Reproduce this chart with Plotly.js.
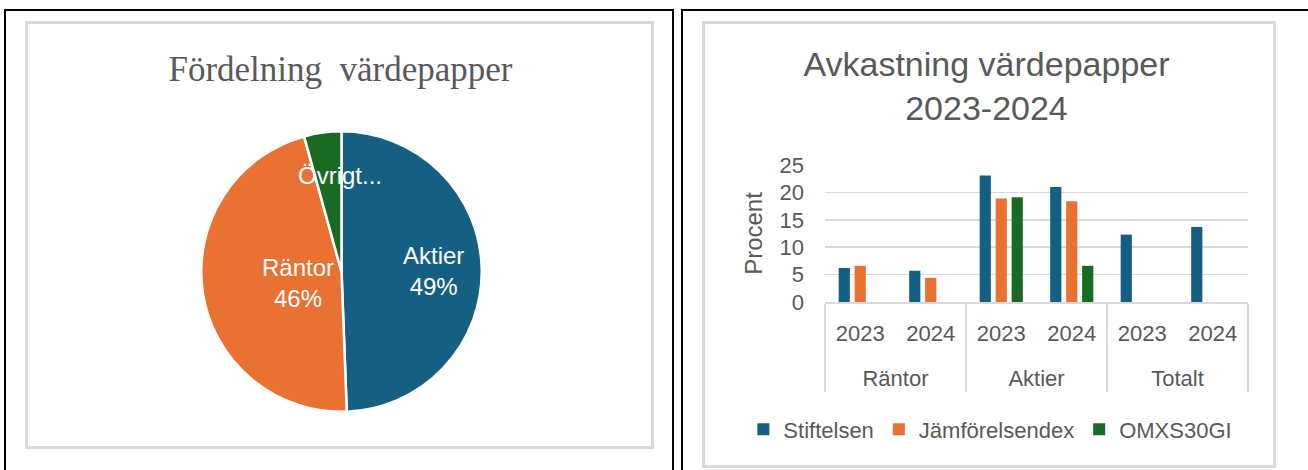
<!DOCTYPE html>
<html>
<head>
<meta charset="utf-8">
<script src="https://cdn.plot.ly/plotly-3.0.1.min.js"></script>
<style>
  html, body { margin: 0; padding: 0; background: #ffffff; width: 1308px; height: 470px; overflow: hidden; position: relative; }
  .frame { position: absolute; box-sizing: border-box; border: 2px solid #000; border-bottom: none; }
  .card { position: absolute; box-sizing: border-box; border: 3px solid #d9d9d9; }
  .plot { position: absolute; }
</style>
</head>
<body>
<div class="frame" style="left:4px; top:9px; width:670px; height:480px;"></div>
<div class="frame" style="left:681px; top:9px; width:700px; height:480px;"></div>
<div class="card" style="left:25px; top:21px; width:629px; height:428px;"></div>
<div class="card" style="left:702px; top:21px; width:574px; height:447px;"></div>
<div id="pie" class="plot" style="left:28px; top:24px; width:623px; height:422px;"></div>
<div id="bar" class="plot" style="left:705px; top:24px; width:568px; height:441px;"></div>
<script>
// ---- Pie data ----
const pieTitle = "Fördelning  värdepapper";
const pieLabels = ["Aktier", "Räntor", "Övrigt"];
const pieValues = [49.4, 46.3, 4.3];
const pieColors = ["#156082", "#E97132", "#196B24"];

// ---- Bar data ----
const barTitle = "Avkastning värdepapper<br>2023-2024";
const groups = ["Räntor", "Räntor", "Aktier", "Aktier", "Totalt", "Totalt"];
const years = ["2023", "2024", "2023", "2024", "2023", "2024"];
const seriesNames = ["Stiftelsen", "Jämförelsendex", "OMXS30GI"];
const stiftelsen = [6.2, 5.7, 23.1, 21.0, 12.3, 13.7];
const jamforelseindex = [6.6, 4.4, 18.9, 18.4, null, null];
const omxs30gi = [null, null, 19.1, 6.6, null, null];
const barColors = ["#156082", "#E97132", "#196B24"];
const yTicks = [0, 5, 10, 15, 20, 25];

const grey = "#595959";
const sans = "'Liberation Sans', Arial, sans-serif";

// ---- Pie chart ----
const total = pieValues.reduce((a, b) => a + b, 0);
const pct = pieValues.map(v => Math.round(v / total * 100) + "%");
const pieLabelText = [
  pieLabels[0] + "<br>" + pct[0],
  pieLabels[1] + "<br>" + pct[1],
  pieLabels[2] + "..."
];
const pieLabelPos = [[0.651, 0.414], [0.434, 0.387], [0.5016, 0.641]];

Plotly.newPlot("pie", [{
  type: "pie",
  labels: pieLabels,
  values: pieValues,
  sort: false,
  direction: "clockwise",
  rotation: 0,
  marker: { colors: pieColors, line: { color: "#ffffff", width: 2.5 } },
  textinfo: "none",
  hoverinfo: "label+percent",
  domain: { x: [0.2781, 0.7283], y: [0.0808, 0.7458] },
  showlegend: false
}], {
  width: 623, height: 422,
  margin: { l: 0, r: 0, t: 0, b: 0 },
  paper_bgcolor: "rgba(0,0,0,0)",
  title: {
    text: pieTitle,
    font: { family: "'Liberation Serif', 'Times New Roman', serif", size: 35, color: grey },
    x: 0.5016, xref: "container", xanchor: "center",
    y: 0.895, yref: "container", yanchor: "middle"
  },
  annotations: pieLabelText.map((t, i) => ({
    text: t, showarrow: false, xref: "paper", yref: "paper",
    x: pieLabelPos[i][0], y: pieLabelPos[i][1], xanchor: "center", yanchor: "middle",
    font: { family: sans, size: 24, color: "#ffffff" }
  }))
}, { staticPlot: true });

// ---- Bar chart ----
const seriesData = [stiftelsen, jamforelseindex, omxs30gi];
// a leading blank line gives the group row the spacing seen in the reference
const groupLabels = groups.map(g => "<br>" + g);
const barTraces = seriesData.map((d, i) => ({
  type: "bar",
  name: seriesNames[i],
  x: [groupLabels, years],
  y: d,
  marker: { color: barColors[i] }
}));

Plotly.newPlot("bar", barTraces, {
  width: 568, height: 441,
  margin: { l: 120, r: 25, t: 141, b: 163 },
  paper_bgcolor: "rgba(0,0,0,0)",
  plot_bgcolor: "rgba(0,0,0,0)",
  barmode: "group",
  bargap: 0.32,
  bargroupgap: 0.3,
  title: {
    text: barTitle,
    font: { family: sans, size: 34, color: grey },
    x: 0.4956, xref: "container", xanchor: "center",
    y: 0.882, yref: "container", yanchor: "top"
  },
  xaxis: {
    type: "multicategory",
    showline: true, linecolor: "#d9d9d9", linewidth: 2,
    showdividers: true, dividercolor: "#d9d9d9", dividerwidth: 2,
    tickfont: { family: sans, size: 22, color: grey },
    ticklabelstandoff: 11,
    showgrid: false, ticks: ""
  },
  yaxis: {
    range: [0, 25],
    tickvals: yTicks,
    ticktext: yTicks.map(String),
    showgrid: true, gridcolor: "#d9d9d9", gridwidth: 1.5,
    zeroline: false, showline: false, ticks: "",
    ticklabelstandoff: 20,
    tickfont: { family: sans, size: 22, color: grey },
    title: { text: "Procent", standoff: 10, font: { family: sans, size: 24, color: grey } },
    automargin: false
  },
  legend: {
    orientation: "h",
    xref: "paper", yref: "paper",
    x: -0.193, xanchor: "left",
    y: -0.931, yanchor: "middle",
    font: { family: sans, size: 22, color: grey },
    itemwidth: 30,
    traceorder: "normal"
  }
}, { staticPlot: true });
</script>
</body>
</html>
